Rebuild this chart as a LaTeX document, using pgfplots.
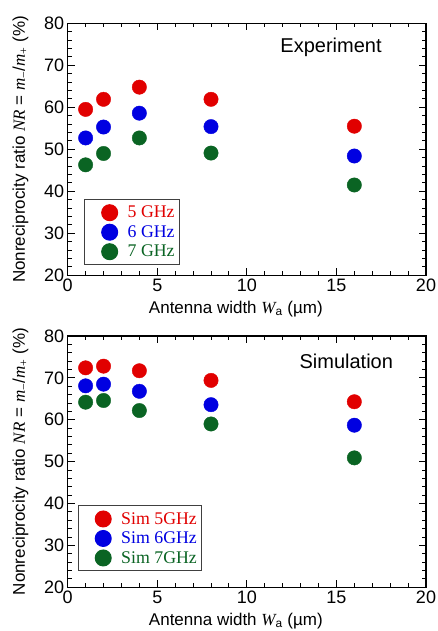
\documentclass[border=0pt]{standalone}
\usepackage{fontspec}
\setmainfont{Liberation Sans}
\newfontfamily\serif{Liberation Serif}
\usepackage{pgfplots}
\pgfplotsset{compat=1.18}

\definecolor{cr}{RGB}{225,0,0}
\definecolor{cb}{RGB}{0,0,225}
\definecolor{cg}{RGB}{10,100,35}

\pgfplotsset{myax/.style={
  scale only axis, width=358.3pt,
  xmin=0, xmax=20, ymin=20, ymax=80,
  xtick={0,5,...,20}, ytick={20,30,...,80},
  minor x tick num=4, minor y tick num=4,
  tick align=inside, major tick length=7pt, minor tick length=4pt,
  axis line style={line width=1.3pt},
  every tick/.style={line width=1pt, black},
  tick label style={font=\fontsize{18}{20}\selectfont},
  /pgf/number format/assume math mode=true,
  label style={font=\fontsize{17}{20}\selectfont},
  xlabel={Antenna width {\serif\itshape W}\textsubscript{a} (µm)},
  xlabel style={xshift=-11pt, yshift=-2.5pt},
  ylabel={Nonreciprocity ratio {\serif\itshape NR} = {\serif\itshape m}\textsubscript{\serif −}/{\serif\itshape m}\textsubscript{\serif +} (\%)},
  ylabel style={yshift=9pt},
  legend cell align=left,
  legend style={draw=black!75, line width=1pt, anchor=south west,
     font=\serif\fontsize{17.8}{19}\selectfont, row sep=1.5pt,
     inner xsep=3pt, inner ysep=4pt},
  legend image code/.code={\path[draw=none, fill=none] (-22pt,-9pt) rectangle (16pt,9pt);
     \draw[mark size=8pt] plot coordinates {(0pt,0pt)};},
  mark size=7.2pt,
}}

\begin{document}
\begin{tikzpicture}
\path[use as bounding box] (0,0) rectangle (437pt,631pt);

\begin{axis}[myax, at={(67.7pt,355.7pt)}, anchor=south west, height=252pt,
  legend style={at={(0.046,0.040)}}]
\addplot[only marks, mark=*, color=cr] coordinates {(1,59.5) (2,61.9) (4,64.8) (8,61.9) (16,55.5)};
\addlegendentry{\textcolor{cr}{5 GHz}}
\addplot[only marks, mark=*, color=cb] coordinates {(1,52.7) (2,55.3) (4,58.6) (8,55.4) (16,48.4)};
\addlegendentry{\textcolor{cb}{6 GHz}}
\addplot[only marks, mark=*, color=cg] coordinates {(1,46.3) (2,49.0) (4,52.7) (8,49.1) (16,41.5)};
\addlegendentry{\textcolor{cg}{7 GHz}}
\node[font=\fontsize{20}{22}\selectfont] at (axis cs:14.7,74.2) {Experiment};
\end{axis}

\begin{axis}[myax, at={(67.7pt,43.7pt)}, anchor=south west, height=251.3pt,
  legend style={at={(0.028,0.063)}}]
\addplot[only marks, mark=*, color=cr] coordinates {(1,72.4) (2,72.8) (4,71.7) (8,69.4) (16,64.3)};
\addlegendentry{\textcolor{cr}{Sim 5GHz}}
\addplot[only marks, mark=*, color=cb] coordinates {(1,68.1) (2,68.5) (4,66.8) (8,63.6) (16,58.7)};
\addlegendentry{\textcolor{cb}{Sim 6GHz}}
\addplot[only marks, mark=*, color=cg] coordinates {(1,64.2) (2,64.6) (4,62.2) (8,59.0) (16,50.9)};
\addlegendentry{\textcolor{cg}{Sim 7GHz}}
\node[font=\fontsize{20}{22}\selectfont] at (axis cs:15.55,74.0) {Simulation};
\end{axis}
\end{tikzpicture}
\end{document}
